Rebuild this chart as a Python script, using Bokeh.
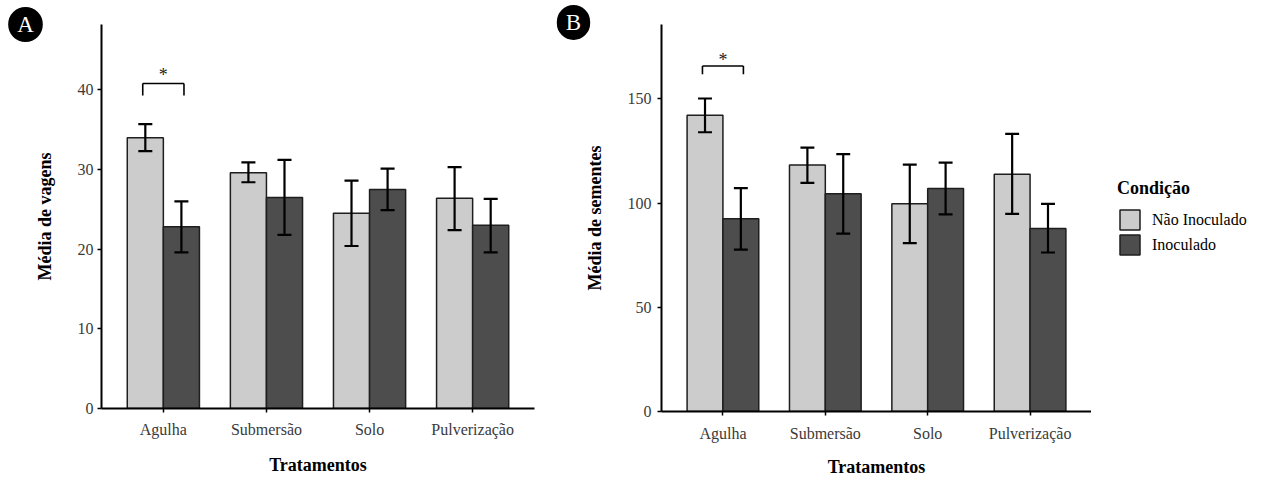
from bokeh.plotting import figure
from bokeh.models import (ColumnDataSource, FactorRange, Range1d, FixedTicker,
                          Legend, LegendItem, Label)
from bokeh.transform import dodge
from bokeh.layouts import row, column
from bokeh.core.properties import value
from bokeh.embed import file_html
from bokeh.resources import INLINE

# ---------------- data ----------------
cats = ["Agulha", "Submersão", "Solo", "Pulverização"]
series_names = ["Não Inoculado", "Inoculado"]

vagens_nao = [34.0, 29.6, 24.5, 26.4]
vagens_nao_lo = [32.3, 28.4, 20.4, 22.4]
vagens_nao_hi = [35.7, 30.9, 28.6, 30.3]
vagens_ino = [22.8, 26.5, 27.5, 23.0]
vagens_ino_lo = [19.6, 21.8, 24.9, 19.6]
vagens_ino_hi = [26.0, 31.2, 30.1, 26.3]

sementes_nao = [142.1, 118.3, 99.7, 113.9]
sementes_nao_lo = [134.0, 109.7, 80.8, 94.8]
sementes_nao_hi = [150.2, 126.6, 118.5, 133.2]
sementes_ino = [92.5, 104.5, 107.0, 87.8]
sementes_ino_lo = [77.7, 85.4, 94.6, 76.3]
sementes_ino_hi = [107.2, 123.5, 119.4, 99.6]

ticks_vagens = [0, 10, 20, 30, 40]
ticks_sementes = [0, 50, 100, 150]

sig_cat = ["Agulha"]
sig_vagens = [40.8]        # bracket top
sig_vagens_leg = [39.3]    # bracket leg bottom
star_vagens = [41.9]
sig_sementes = [165.8]
sig_sementes_leg = [161.8]
star_sementes = [168.8]

# ---------------- style ----------------
SERIF = "Liberation Serif"
LIGHT = "#cccccc"
DARK = "#4d4d4d"
EDGE = "#1e1e1e"
TICKC = "#3a3a3a"
OFF = 0.175
BW = 0.35
CAP = 0.068
BR = 0.2
H = 479


def make_panel(width, bl, br, bb, ymax, ticks, ylabel,
               nao, nao_lo, nao_hi, ino, ino_lo, ino_hi,
               sig_top, sig_leg, star_y, letter, letter_x, ystand, xstand, tstand):
    p = figure(width=width, height=H,
               x_range=FactorRange(*cats, range_padding=0.05, range_padding_units="percent"),
               y_range=Range1d(0, ymax),
               output_backend="svg", toolbar_location=None,
               min_border_left=bl, min_border_right=br,
               min_border_top=24, min_border_bottom=bb)
    p.outline_line_color = None
    p.xgrid.visible = False
    p.ygrid.visible = False
    p.background_fill_color = "white"
    p.border_fill_color = "white"

    src = ColumnDataSource(dict(cat=cats, nao=nao, nao_lo=nao_lo, nao_hi=nao_hi,
                                ino=ino, ino_lo=ino_lo, ino_hi=ino_hi))
    r_nao = p.vbar(x=dodge("cat", -OFF, range=p.x_range), top="nao", width=BW,
                   source=src, fill_color=LIGHT, line_color=EDGE, line_width=1.5)
    r_ino = p.vbar(x=dodge("cat", OFF, range=p.x_range), top="ino", width=BW,
                   source=src, fill_color=DARK, line_color=EDGE, line_width=1.5)

    for off, lo, hi in [(-OFF, "nao_lo", "nao_hi"), (OFF, "ino_lo", "ino_hi")]:
        p.segment(x0=dodge("cat", off, range=p.x_range), y0=lo,
                  x1=dodge("cat", off, range=p.x_range), y1=hi,
                  source=src, line_color="black", line_width=2.2)
        for col in (lo, hi):
            p.segment(x0=dodge("cat", off - CAP, range=p.x_range), y0=col,
                      x1=dodge("cat", off + CAP, range=p.x_range), y1=col,
                      source=src, line_color="black", line_width=2.2)

    ssrc = ColumnDataSource(dict(cat=sig_cat, top=sig_top, leg=sig_leg,
                                 star=star_y, s=["*"]))
    p.segment(x0=dodge("cat", -BR, range=p.x_range), y0="top",
              x1=dodge("cat", BR, range=p.x_range), y1="top",
              source=ssrc, line_color="black", line_width=1.6)
    for off in (-BR, BR):
        p.segment(x0=dodge("cat", off, range=p.x_range), y0="leg",
                  x1=dodge("cat", off, range=p.x_range), y1="top",
                  source=ssrc, line_color="black", line_width=1.6)
    p.text(x="cat", y="star", text="s", source=ssrc,
           text_font=value(SERIF), text_font_size="18px",
           text_align="center", text_baseline="middle", text_color="#222222")

    # axes
    for ax in (p.xaxis[0], p.yaxis[0]):
        ax.axis_line_color = "black"
        ax.axis_line_width = 2
        ax.major_tick_line_color = "black"
        ax.major_tick_line_width = 1.5
        ax.major_tick_out = 4
        ax.major_tick_in = 0
        ax.minor_tick_line_color = None
        ax.major_label_text_font = SERIF
        ax.major_label_text_font_size = "16px"
        ax.major_label_text_color = TICKC
        ax.axis_label_text_font = SERIF
        ax.axis_label_text_font_style = "bold"
        ax.axis_label_text_font_size = "18px"
        ax.axis_label_text_color = "black"
    p.yaxis[0].ticker = FixedTicker(ticks=ticks)
    p.yaxis[0].axis_label = ylabel
    p.yaxis[0].major_label_standoff = ystand
    p.yaxis[0].axis_label_standoff = 20
    p.xaxis[0].axis_label = "Tratamentos"
    p.xaxis[0].major_label_standoff = xstand
    p.xaxis[0].axis_label_standoff = tstand

    frame_h = H - 24 - bb
    p.add_layout(Label(x=letter_x, y=frame_h, x_units="screen", y_units="screen",
                       text=letter, text_color="white", text_font=SERIF,
                       text_font_size="23px", text_align="center",
                       text_baseline="middle", background_fill_color="black",
                       border_line_color="black", border_line_width=8,
                       border_radius=17, padding=(5, 1)), "left")
    return p, r_nao, r_ino


pA, _, _ = make_panel(556, 101, 22, 71, 48.2, ticks_vagens, "Média de vagens",
                      vagens_nao, vagens_nao_lo, vagens_nao_hi,
                      vagens_ino, vagens_ino_lo, vagens_ino_hi,
                      sig_vagens, sig_vagens_leg, star_vagens, "A", 21, 4, 8, 14)

pB, rn, ri = make_panel(535, 105, 0, 66, 185.7, ticks_sementes, "Média de sementes",
                        sementes_nao, sementes_nao_lo, sementes_nao_hi,
                        sementes_ino, sementes_ino_lo, sementes_ino_hi,
                        sig_sementes, sig_sementes_leg, star_sementes, "B", 17, 6, 9, 12)

# legend panel
pC = figure(width=185, height=H, x_range=Range1d(0, 1), y_range=Range1d(0, 1),
            x_axis_type=None, y_axis_type=None,
            output_backend="svg", toolbar_location=None,
            min_border_left=0, min_border_right=0, min_border_top=0, min_border_bottom=0)
pC.outline_line_color = None
pC.xgrid.visible = False
pC.ygrid.visible = False
lsrc = ColumnDataSource(dict(x=[0.5], top=[0.5]))
lg_nao = pC.vbar(x="x", top="top", width=0.1, source=lsrc, visible=False,
                 fill_color=LIGHT, line_color=EDGE, line_width=1.5)
lg_ino = pC.vbar(x="x", top="top", width=0.1, source=lsrc, visible=False,
                 fill_color=DARK, line_color=EDGE, line_width=1.5)
legend = Legend(items=[LegendItem(label=series_names[0], renderers=[lg_nao]),
                       LegendItem(label=series_names[1], renderers=[lg_ino])],
                title="Condição", location=(26, 222),
                title_text_font=SERIF, title_text_font_style="bold",
                title_text_font_size="18px", title_text_color="black", title_standoff=8,
                label_text_font=SERIF, label_text_font_size="16px",
                label_text_color="black", label_standoff=10,
                glyph_width=25, glyph_height=25, label_height=25,
                spacing=0, padding=0, margin=0,
                border_line_color=None, background_fill_alpha=0)
pC.add_layout(legend)

layout = row(column(pA), column(pB), column(pC))
open("out.html", "w").write(file_html(layout, INLINE))
